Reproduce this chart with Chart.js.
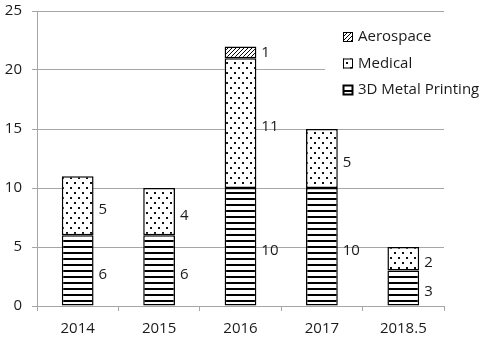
<!DOCTYPE html>
<html>
<head>
<meta charset="utf-8">
<script src="https://cdn.jsdelivr.net/npm/chart.js@4"></script>
<style>
  html, body { margin: 0; padding: 0; background: #fff; }
  #wrap { width: 484px; height: 344px; position: relative; }
</style>
</head>
<body>
<div id="wrap"><canvas id="chart"></canvas></div>
<script>
const YEARS = ["2014", "2015", "2016", "2017", "2018.5"];
const METAL = [6, 6, 10, 10, 3];
const MEDICAL = [5, 4, 11, 5, 2];
const AEROSPACE = [0, 0, 1, 0, 0];
const Y_TICKS = [0, 5, 10, 15, 20, 25];

const FONT = "'Open Sans', 'Noto Sans', sans-serif";
const GRID = "#a6a6a6";
const INK = "#1a1a1a";

const makePattern = (w, h, draw) => {
  const c = document.createElement("canvas");
  c.width = w;
  c.height = h;
  const g = c.getContext("2d");
  g.fillStyle = "#fff";
  g.fillRect(0, 0, w, h);
  draw(g);
  return document.createElement("canvas").getContext("2d").createPattern(c, "repeat");
};

const stripes = makePattern(6, 6, (g) => {
  g.fillStyle = "#000";
  g.fillRect(0, 0, 6, 2);
});

const dots = makePattern(8, 10, (g) => {
  g.fillStyle = "#111";
  g.fillRect(2, 2, 2, 2);
  g.fillRect(6, 7, 2, 2);
});

const hatch = makePattern(4, 4, (g) => {
  g.strokeStyle = "#000";
  g.lineWidth = 1;
  g.beginPath();
  g.moveTo(-1, 5);
  g.lineTo(5, -1);
  g.stroke();
});

const valueLabels = {
  id: "valueLabels",
  afterDatasetsDraw(chart) {
    const { ctx } = chart;
    ctx.save();
    ctx.font = `15px ${FONT}`;
    ctx.fillStyle = INK;
    ctx.textAlign = "left";
    ctx.textBaseline = "middle";
    chart.data.datasets.forEach((ds, i) => {
      chart.getDatasetMeta(i).data.forEach((bar, j) => {
        const v = ds.data[j];
        if (!v) return;
        const mid = (bar.y + bar.base) / 2;
        ctx.fillText(String(v), bar.x + bar.width / 2 + 5, mid + (v > 1 ? 4 : 0));
      });
    });
    ctx.restore();
  }
};

const boxLegend = {
  id: "boxLegend",
  afterDraw(chart) {
    const { ctx } = chart;
    ctx.save();
    ctx.fillStyle = "#fff";
    ctx.fillRect(325, 20, 159, 88);
    ctx.font = `15px ${FONT}`;
    ctx.textAlign = "left";
    ctx.textBaseline = "middle";
    const order = chart.data.datasets.slice().reverse();
    order.forEach((ds, k) => {
      const y = 37 + k * 26.5;
      ctx.fillStyle = ds.backgroundColor;
      ctx.fillRect(343, y - 5, 10, 10);
      ctx.strokeStyle = "#000";
      ctx.lineWidth = k === 2 ? 2 : 1;
      ctx.strokeRect(343.5, y - 4.5, 9, 9);
      ctx.fillStyle = INK;
      ctx.fillText(ds.label, 358, y);
    });
    ctx.restore();
  }
};

new Chart(document.getElementById("chart"), {
  type: "bar",
  data: {
    labels: YEARS,
    datasets: [
      { label: "3D Metal Printing", data: METAL, backgroundColor: stripes },
      { label: "Medical", data: MEDICAL, backgroundColor: dots },
      { label: "Aerospace", data: AEROSPACE, backgroundColor: hatch }
    ].map((d) => ({
      ...d,
      borderColor: "#000",
      borderWidth: 1.5,
      borderSkipped: false,
      barPercentage: 0.39,
      categoryPercentage: 1
    }))
  },
  options: {
    responsive: true,
    maintainAspectRatio: false,
    animation: false,
    layout: { padding: { top: 11, right: 40, left: 0, bottom: 0 } },
    plugins: { legend: { display: false }, tooltip: { enabled: false } },
    scales: {
      x: {
        stacked: true,
        afterFit: (s) => { s.height = 38; s.paddingLeft = 0; s.paddingRight = 0; },
        grid: { drawOnChartArea: false, drawTicks: true, tickLength: 5, color: GRID, offset: true },
        border: { color: GRID },
        ticks: { color: INK, font: { family: FONT, size: 15 }, padding: 9 }
      },
      y: {
        stacked: true,
        min: 0,
        max: 25,
        afterBuildTicks: (s) => { s.ticks = Y_TICKS.map((v) => ({ value: v })); },
        afterFit: (s) => { s.width = 37; s.paddingTop = 0; s.paddingBottom = 0; },
        grid: { color: GRID, tickLength: 5 },
        border: { color: GRID },
        ticks: { color: INK, font: { family: FONT, size: 15 }, padding: 10 }
      }
    }
  },
  plugins: [valueLabels, boxLegend]
});
</script>
</body>
</html>
